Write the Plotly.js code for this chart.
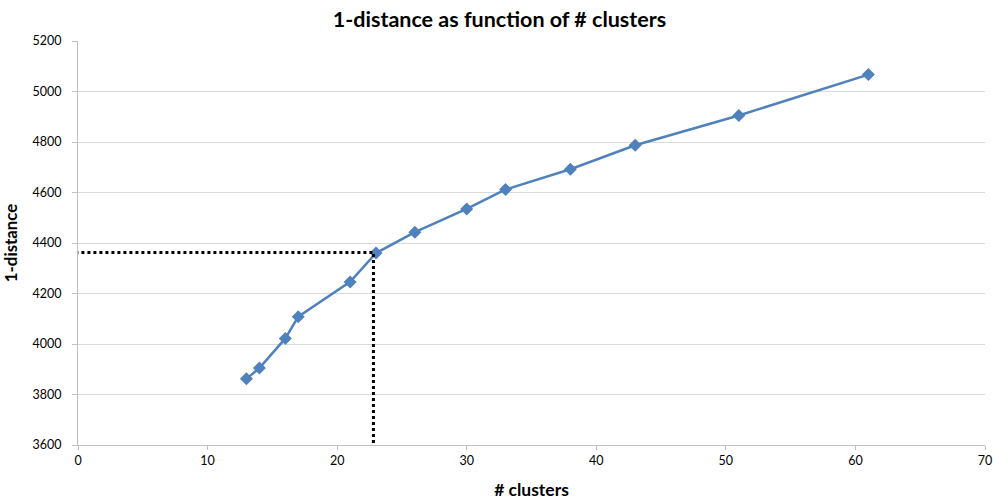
<!DOCTYPE html>
<html><head><meta charset="utf-8">
<script src="https://cdn.plot.ly/plotly-3.0.1.min.js"></script>
<style>html,body{margin:0;padding:0;background:#fff}#chart{width:993px;height:500px}</style>
</head><body><div id="chart"></div>
<script>
const clusters = [13, 14, 16, 17, 21, 23, 26, 30, 33, 38, 43, 51, 61];
const distance = [3862, 3905, 4022, 4108, 4246, 4360, 4443, 4535, 4612, 4692, 4787, 4905, 5067];
const xTicks = [0, 10, 20, 30, 40, 50, 60, 70];
const yTicks = [3600, 3800, 4000, 4200, 4400, 4600, 4800, 5000, 5200];
const markX = 22.8;
const markY = 4362;

const trace = {
  x: clusters, y: distance, type: 'scatter', mode: 'lines+markers',
  line: {color: '#4F81BD', width: 2.5},
  marker: {symbol: 'diamond', size: 10, color: '#4F81BD'},
  hoverinfo: 'x+y'
};
const layout = {
  width: 993, height: 500,
  margin: {l: 78, r: 8, t: 41, b: 55},
  paper_bgcolor: '#fff', plot_bgcolor: '#fff',
  font: {family: 'Lato, "Open Sans", sans-serif', color: '#000', size: 12.5},
  title: {text: '<b>1-distance as function of # clusters</b>', x: 0.503, xanchor: 'center', y: 0.962, yanchor: 'middle',
          font: {size: 21.5, family: 'Lato, "Open Sans", sans-serif', color: '#000'}},
  xaxis: {range: [0, 70], tickvals: xTicks, ticktext: xTicks.map(String), showgrid: false, zeroline: false,
          showline: true, linecolor: '#BFBFBF', linewidth: 1, ticks: 'outside', ticklen: 4, tickcolor: '#BFBFBF',
          tickfont: {size: 12.5}, title: {text: '<b># clusters</b>', standoff: 16, font: {size: 17.5}}},
  yaxis: {range: [3600, 5200], tickvals: yTicks, ticktext: yTicks.map(String), showgrid: true, gridcolor: '#D9D9D9', gridwidth: 1,
          zeroline: false, showline: true, linecolor: '#BFBFBF', linewidth: 1, ticks: 'outside', ticklen: 5, tickcolor: '#BFBFBF',
          ticklabelstandoff: 8,
          tickfont: {size: 12.5}, title: {text: '<b>1-distance</b>', standoff: 12, font: {size: 16.8}}},
  shapes: [
    {type: 'line', xref: 'x', yref: 'y', x0: -0.2, x1: markX, y0: markY, y1: markY, line: {color: '#000', width: 3, dash: 'dot'}},
    {type: 'line', xref: 'x', yref: 'y', x0: markX, x1: markX, y0: 3608, y1: markY, line: {color: '#000', width: 3, dash: 'dot'}}
  ],
  showlegend: false
};
Plotly.newPlot('chart', [trace], layout, {displayModeBar: false, staticPlot: true});
</script></body></html>
